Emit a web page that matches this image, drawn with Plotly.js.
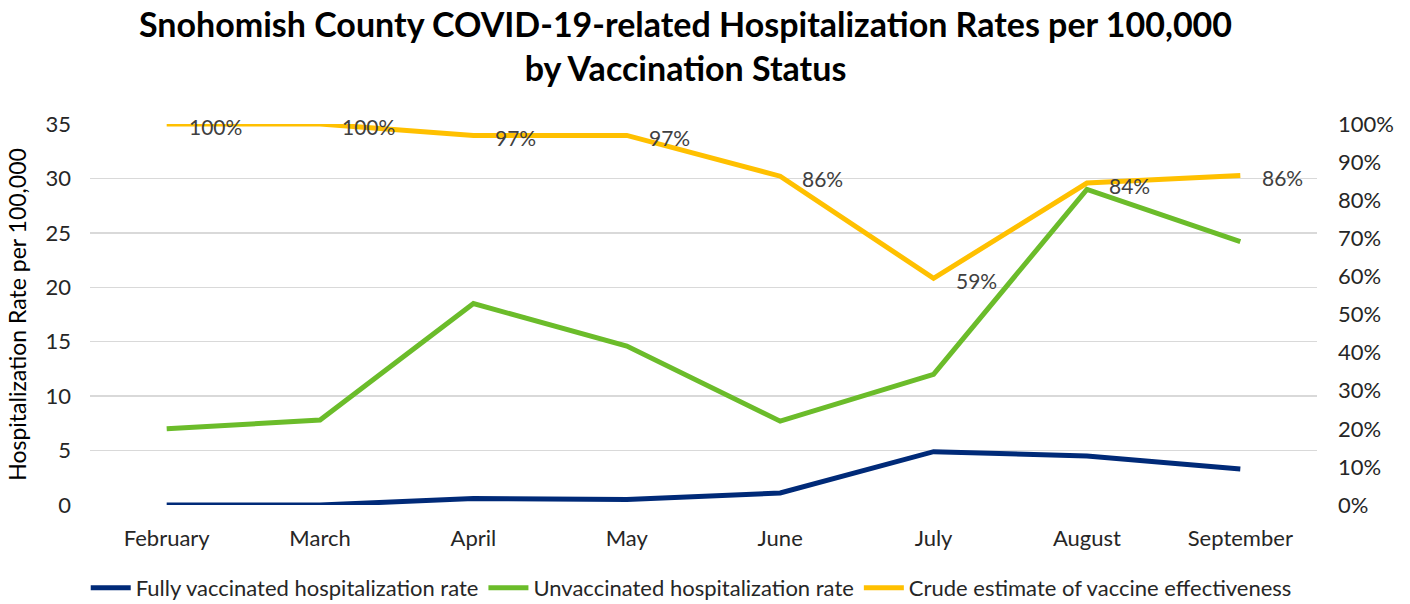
<!DOCTYPE html>
<html>
<head>
<meta charset="utf-8">
<script src="https://cdn.plot.ly/plotly-3.0.1.min.js"></script>
<style>html,body{margin:0;padding:0;background:#fff;}#chart{width:1410px;height:604px;}</style>
</head>
<body>
<div id="chart"></div>
<script>
const months = ["February","March","April","May","June","July","August","September"];
const fullyVaccinated = [0, 0, 0.6, 0.5, 1.1, 4.9, 4.5, 3.3];
const unvaccinated = [7.0, 7.8, 18.5, 14.6, 7.7, 12.0, 29.0, 24.2];
const effectiveness = [1.00, 1.00, 0.97, 0.97, 0.863, 0.595, 0.845, 0.865];
const effLabels = ["100%","100%","97%","97%","86%","59%","84%","86%"];

const FONT = "Lato, 'Open Sans', sans-serif";

const traces = [
  {x: months, y: fullyVaccinated, name: "Fully vaccinated hospitalization rate", type: "scatter", mode: "lines",
   line: {color: "#002A78", width: 5}, yaxis: "y"},
  {x: months, y: unvaccinated, name: "Unvaccinated hospitalization rate", type: "scatter", mode: "lines",
   line: {color: "#6BBC2A", width: 5}, yaxis: "y"},
  {x: months, y: effectiveness, name: "Crude estimate of vaccine effectiveness", type: "scatter", mode: "lines",
   line: {color: "#FFC000", width: 5}, yaxis: "y2"}
];

const annotations = months.map((m, i) => ({
  x: m, y: effectiveness[i], xref: "x", yref: "y2", text: effLabels[i],
  showarrow: false, xanchor: "left", yanchor: "middle", xshift: 20, yshift: -2,
  font: {family: FONT, size: 21, color: "#404040"}
}));
annotations.push({
  xref: "paper", yref: "paper", x: 0.485, y: 1, xanchor: "center", yanchor: "bottom", yshift: 34,
  showarrow: false, align: "center",
  text: "<b>Snohomish County COVID-19-related Hospitalization Rates per 100,000<br>by Vaccination Status</b>",
  font: {family: FONT, size: 34, color: "#000"}
});

const layout = {
  width: 1410, height: 604,
  margin: {l: 90, r: 93, t: 124, b: 99, autoexpand: false},
  paper_bgcolor: "#fff", plot_bgcolor: "#fff",
  font: {family: FONT, color: "#262626"},
  xaxis: {type: "category", range: [-0.5, 7.5], showgrid: false, zeroline: false, showline: false,
          ticks: "", tickfont: {family: FONT, size: 22, color: "#262626"}, ticklabelstandoff: 18},
  yaxis: {range: [0, 35], dtick: 5, showgrid: true, gridcolor: "#D9D9D9", gridwidth: 1.5, zeroline: false,
          showline: false, ticks: "", tickfont: {family: FONT, size: 22, color: "#262626"}, ticklabelstandoff: 18,
          title: {text: "Hospitalization Rate per 100,000", font: {family: FONT, size: 23, color: "#000"}, standoff: 12}},
  yaxis2: {range: [0, 1], dtick: 0.1, tickformat: ".0%", overlaying: "y", side: "right", showgrid: false,
           zeroline: false, showline: false, ticks: "", tickfont: {family: FONT, size: 22, color: "#262626"},
           ticklabelstandoff: 20},
  legend: {orientation: "h", x: 0.49, xanchor: "center", y: -0.218, yanchor: "middle",
           font: {family: FONT, size: 22, color: "#262626"}, itemwidth: 40, tracegroupgap: 0},
  annotations: annotations,
  showlegend: true
};

Plotly.newPlot("chart", traces, layout, {displayModeBar: false, staticPlot: true});
</script>
</body>
</html>
